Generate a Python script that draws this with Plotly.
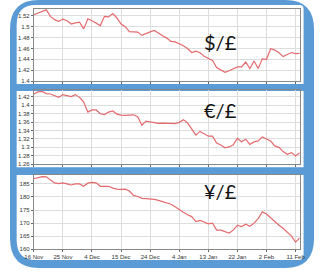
import plotly.graph_objects as go

# ---------------- data ----------------
tick_labels = ["16 Nov", "25 Nov", "4 Dec", "15 Dec", "24 Dec",
               "4 Jan", "13 Jan", "22 Jan", "2 Feb", "11 Feb"]
tick_step = 7  # trading days between labelled ticks

usd_gbp = [1.522, 1.525, 1.528, 1.531, 1.519, 1.513, 1.510, 1.514, 1.511, 1.505,
           1.507, 1.5085, 1.496, 1.5145, 1.511, 1.507, 1.502, 1.519, 1.518, 1.524,
           1.516, 1.505, 1.500, 1.491, 1.4905, 1.490, 1.484, 1.488, 1.4905, 1.493,
           1.489, 1.4835, 1.479, 1.473, 1.472, 1.469, 1.465, 1.460, 1.4525, 1.455,
           1.452, 1.4455, 1.441, 1.438, 1.425, 1.420, 1.416, 1.419, 1.4225, 1.426,
           1.426, 1.435, 1.423, 1.437, 1.423, 1.441, 1.440, 1.4595, 1.457, 1.452,
           1.445, 1.449, 1.4525, 1.4505, 1.451]

eur_gbp = [1.427, 1.432, 1.433, 1.428, 1.427, 1.423, 1.419, 1.4255, 1.423, 1.421,
           1.4255, 1.419, 1.408, 1.384, 1.389, 1.389, 1.380, 1.378, 1.384, 1.3865,
           1.379, 1.3765, 1.376, 1.376, 1.3775, 1.373, 1.3525, 1.3625, 1.3605, 1.360,
           1.357, 1.3575, 1.357, 1.3565, 1.3565, 1.3595, 1.366, 1.358, 1.3435, 1.329,
           1.338, 1.333, 1.3266, 1.3266, 1.310, 1.3055, 1.299, 1.301, 1.306, 1.3212,
           1.3134, 1.3195, 1.307, 1.313, 1.3155, 1.325, 1.320, 1.315, 1.3035, 1.300,
           1.2899, 1.2835, 1.2875, 1.2795, 1.2875]

jpy_gbp = [187.0, 187.4, 187.8, 187.7, 186.6, 185.4, 185.1, 185.4, 185.0, 184.6,
           185.0, 185.0, 184.1, 185.3, 185.6, 185.4, 184.1, 184.1, 184.1, 183.4,
           183.0, 182.9, 183.0, 182.3, 180.6, 180.2, 179.5, 179.4, 179.3, 179.1,
           178.7, 178.3, 177.8, 177.2, 176.3, 175.1, 174.2, 173.2, 172.5, 170.6,
           171.0, 170.4, 169.7, 170.0, 167.3, 167.3, 166.8, 166.2, 167.3, 169.2,
           168.7, 169.6, 168.8, 170.0, 171.7, 174.3, 173.5, 172.0, 170.6, 169.2,
           168.0, 166.4, 165.0, 162.7, 164.3]

titles = ["$/£", "€/£", "¥/£"]

y1_ticks = [1.40, 1.42, 1.44, 1.46, 1.48, 1.50, 1.52]
y1_labels = ["1.4", "1.42", "1.44", "1.46", "1.48", "1.5", "1.52"]
y2_ticks = [1.26, 1.28, 1.30, 1.32, 1.34, 1.36, 1.38, 1.40, 1.42]
y2_labels = ["1.26", "1.28", "1.3", "1.32", "1.34", "1.36", "1.38", "1.4", "1.42"]
y3_ticks = [160, 165, 170, 175, 180, 185]
y3_labels = ["160", "165", "170", "175", "180", "185"]

# ---------------- layout helpers ----------------
W, H = 320, 272
def fx(x): return x / W
def fy(y): return 1 - y / H

def rrect(x0, y0, x1, y1, tl, tr, br, bl):
    pts = []
    def P(x, y): return f"{fx(x):.5f},{fy(y):.5f}"
    pts.append("M" + P(x0 + tl, y0))
    pts.append("L" + P(x1 - tr, y0))
    pts.append("Q" + P(x1, y0) + " " + P(x1, y0 + tr))
    pts.append("L" + P(x1, y1 - br))
    pts.append("Q" + P(x1, y1) + " " + P(x1 - br, y1))
    pts.append("L" + P(x0 + bl, y1))
    pts.append("Q" + P(x0, y1) + " " + P(x0, y1 - bl))
    pts.append("L" + P(x0, y0 + tl))
    pts.append("Q" + P(x0, y0) + " " + P(x0 + tl, y0))
    return " ".join(pts) + " Z"

BLUE = "#5A9AD5"
shapes = [
    dict(type="path", xref="paper", yref="paper", layer="below",
         path=rrect(0, 0, 319, 271, 30, 30, 30, 30),
         fillcolor=BLUE, line=dict(width=0)),
    dict(type="path", xref="paper", yref="paper", layer="below",
         path=rrect(7, 5, 308, 85, 20, 4, 0, 0),
         fillcolor="white", line=dict(width=0)),
    dict(type="path", xref="paper", yref="paper", layer="below",
         path=rrect(7, 92, 308, 169, 0, 0, 0, 0),
         fillcolor="white", line=dict(width=0)),
    dict(type="path", xref="paper", yref="paper", layer="below",
         path=rrect(7, 177, 308, 263, 0, 0, 6, 20),
         fillcolor="white", line=dict(width=0)),
]

n = len(usd_gbp)
xs = list(range(n))
tickvals = [i * tick_step for i in range(len(tick_labels))]

series = [usd_gbp, eur_gbp, jpy_gbp]
yranges = [[1.40, 1.5327], [1.26, 1.4365], [160, 188.4]]
yticks = [(y1_ticks, y1_labels), (y2_ticks, y2_labels), (y3_ticks, y3_labels)]
ydomains = [[fy(82), fy(9)], [fy(166), fy(91)], [fy(252), fy(177)]]
title_pos = [42, 111, 193]

fig = go.Figure()
tickfont = dict(family="Liberation Sans", size=6, color="#333333")
layout = dict(
    width=W, height=H, margin=dict(l=0, r=0, t=0, b=0),
    paper_bgcolor="white", plot_bgcolor="white", showlegend=False,
    shapes=shapes, annotations=[],
)

for k in range(3):
    sfx = "" if k == 0 else str(k + 1)
    fig.add_trace(go.Scatter(
        x=xs, y=series[k], mode="lines",
        line=dict(color="#E46A6E", width=1.2),
        xaxis="x" + sfx, yaxis="y" + sfx, hoverinfo="skip"))
    layout["xaxis" + sfx] = dict(
        domain=[fx(25), fx(304)], range=[0, n - 1], anchor="y" + sfx,
        tickmode="array", tickvals=tickvals, ticktext=tick_labels,
        showticklabels=(k == 2), tickfont=tickfont,
        ticks="outside", ticklen=2, tickcolor="#666666",
        showgrid=True, gridcolor="#DDDDDD", gridwidth=1,
        showline=True, linecolor="#888888", linewidth=1, mirror=True,
        zeroline=False, fixedrange=True)
    layout["yaxis" + sfx] = dict(
        domain=ydomains[k], range=yranges[k], anchor="x" + sfx,
        tickmode="array", tickvals=yticks[k][0], ticktext=yticks[k][1],
        tickfont=tickfont, ticks="outside", ticklen=2, tickcolor="#666666",
        showgrid=True, gridcolor="#DDDDDD", gridwidth=1,
        showline=True, linecolor="#888888", linewidth=1, mirror=True,
        zeroline=False, fixedrange=True)
    layout["annotations"].append(dict(
        text=titles[k], xref="paper", yref="paper",
        x=fx(221), y=fy(title_pos[k]), xanchor="center", yanchor="middle",
        showarrow=False, font=dict(family="Lato", size=20, color="#111111")))

fig.update_layout(**layout)
fig.write_html("out.html")
